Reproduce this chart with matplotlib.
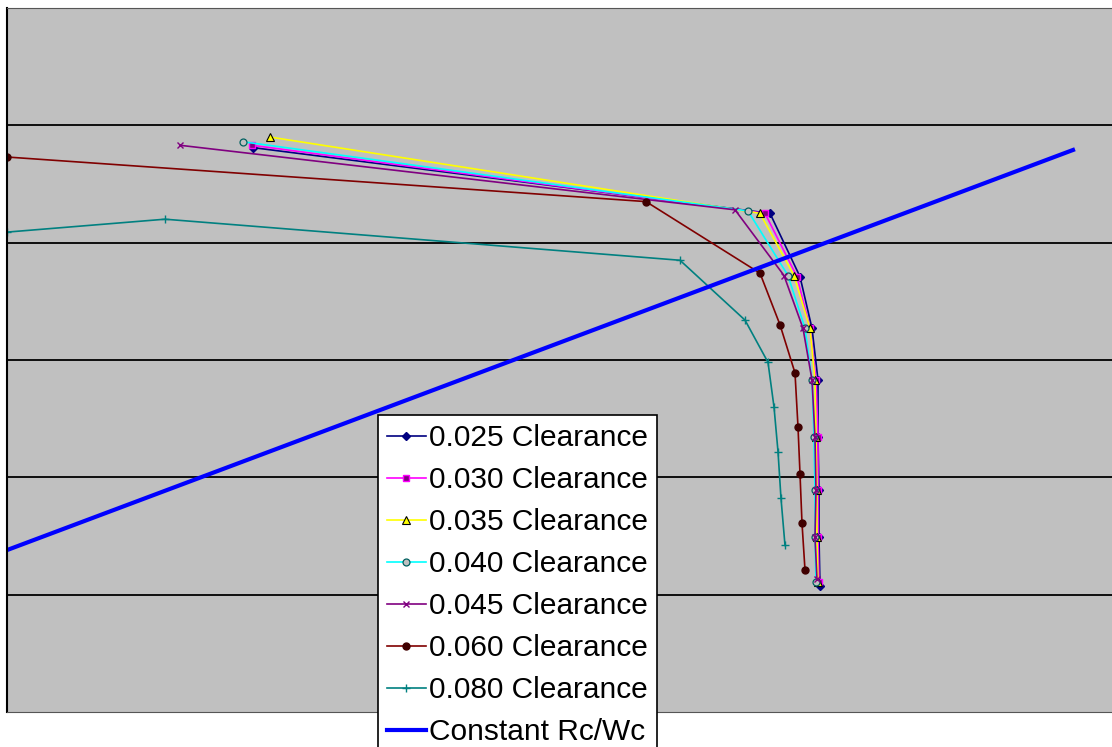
import matplotlib.pyplot as plt

plt.rcParams['font.family'] = ['Liberation Sans', 'DejaVu Sans']

# series values (arbitrary units)
x_025 = [2.46, 7.63, 7.93, 8.05, 8.11, 8.11, 8.12, 8.12, 8.13]
y_025 = [4.81, 4.25, 3.71, 3.27, 2.83, 2.34, 1.89, 1.49, 1.07]

x_030 = [2.45, 7.58, 7.90, 8.03, 8.09, 8.11, 8.11, 8.11, 8.12]
y_030 = [4.83, 4.25, 3.71, 3.27, 2.83, 2.34, 1.89, 1.49, 1.11]

x_035 = [2.63, 7.53, 7.87, 8.03, 8.08, 8.09, 8.10, 8.10, 8.11]
y_035 = [4.90, 4.25, 3.72, 3.27, 2.83, 2.34, 1.89, 1.49, 1.11]

x_040 = [2.36, 7.41, 7.81, 7.98, 8.05, 8.07, 8.08, 8.08, 8.09]
y_040 = [4.86, 4.27, 3.72, 3.27, 2.83, 2.34, 1.89, 1.49, 1.11]

x_045 = [1.73, 7.28, 7.77, 7.96, 8.05, 8.08, 8.09, 8.08, 8.10]
y_045 = [4.83, 4.28, 3.72, 3.27, 2.83, 2.34, 1.89, 1.49, 1.13]

x_060 = [0.00, 6.39, 7.53, 7.73, 7.88, 7.91, 7.93, 7.95, 7.98]
y_060 = [4.73, 4.35, 3.74, 3.30, 2.89, 2.43, 2.03, 1.61, 1.21]

x_080 = [0.00, 1.58, 6.73, 7.38, 7.61, 7.67, 7.71, 7.74, 7.78]
y_080 = [4.09, 4.20, 3.85, 3.34, 2.98, 2.60, 2.22, 1.82, 1.42]

x_const = [0.00, 10.66]
y_const = [1.38, 4.79]

fig = plt.figure(figsize=(11.12, 7.47), dpi=100)
ax = fig.add_axes([7/1112, 35/747, 1105/1112, 704/747])
ax.set_facecolor('#c0c0c0')

# curves
ax.plot(x_025, y_025, color='#000080', lw=1.2, marker='D', ms=4, mfc='#000080', mec='#000080', label='0.025 Clearance')
ax.plot(x_030, y_030, color='#ff00ff', lw=1.2, marker='s', ms=5, mfc='#800080', mec='#ff00ff', label='0.030 Clearance')
ax.plot(x_035, y_035, color='#ffff00', lw=1.2, marker='^', ms=6, mfc='#ffff00', mec='#000000', mew=0.8, label='0.035 Clearance')
ax.plot(x_040, y_040, color='#00ffff', lw=1.2, marker='o', ms=5, mfc='#c0c0c0', mec='#006060', mew=0.9, label='0.040 Clearance')
ax.plot(x_045, y_045, color='#800080', lw=1.2, marker='x', ms=5, mec='#800080', label='0.045 Clearance')
ax.plot(x_060, y_060, color='#800000', lw=1.2, marker='o', ms=5, mfc='#400000', mec='#400000', label='0.060 Clearance')
ax.plot(x_080, y_080, color='#008080', lw=1.2, marker='+', ms=6, mec='#008080', label='0.080 Clearance')
ax.plot(x_const, y_const, color='#0000ff', lw=3, label='Constant Rc/Wc')

ax.set_xlim(0, 11.05)
ax.set_ylim(0, 6)
ax.set_yticks([1, 2, 3, 4, 5])
ax.set_xticks([])
ax.tick_params(left=False, labelleft=False)
ax.grid(axis='y', color='black', lw=1.3)
ax.set_axisbelow(True)
for side in ['top', 'bottom']:
    ax.spines[side].set_linewidth(0.8)
    ax.spines[side].set_color('#555555')
ax.spines['left'].set_linewidth(1.5)
ax.spines['left'].set_color('black')
ax.spines['right'].set_visible(False)

leg = fig.legend(loc='upper left', bbox_to_anchor=(378/1112, (747-415)/747),
                 fontsize=21.5, frameon=True, fancybox=False, framealpha=1,
                 edgecolor='black', borderaxespad=0, handlelength=1.3,
                 handletextpad=0.12, labelspacing=0.47, borderpad=0.3)
leg.get_frame().set_linewidth(1.2)

fig.savefig('out.png', dpi=100)
